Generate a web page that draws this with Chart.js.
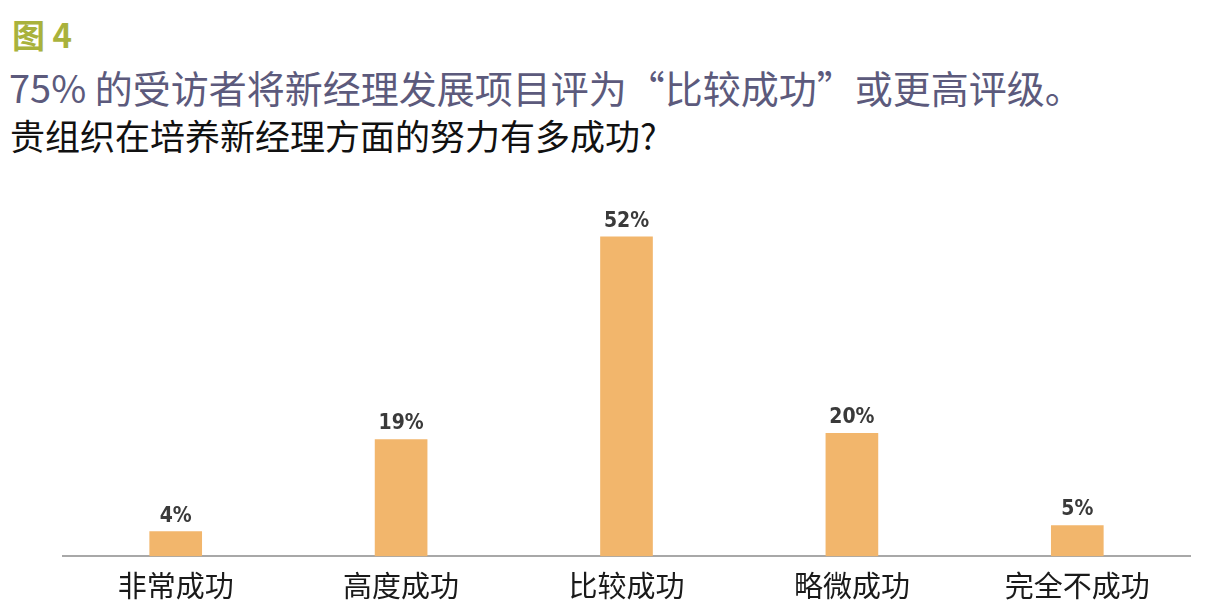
<!DOCTYPE html>
<html>
<head>
<meta charset="utf-8">
<script src="https://cdn.jsdelivr.net/npm/chart.js@4"></script>
<style>
  body { margin: 0; width: 1214px; height: 614px; background: #fff; position: relative; overflow: hidden; font-family: "Noto Sans CJK SC", sans-serif; }
  .fig { position: absolute; left: 12px; top: 18px; font-size: 33px; font-weight: bold; color: #a9b23c; line-height: 1; }
  .headline { position: absolute; left: 9px; top: 68px; font-size: 38px; color: #5c5a7c; line-height: 1; white-space: nowrap; }
  .question { position: absolute; left: 10px; top: 117px; font-size: 35px; color: #111; line-height: 1; white-space: nowrap; }
  #wrap { position: absolute; left: 0; top: 180px; width: 1214px; height: 427px; }
</style>
</head>
<body>
<div class="fig">图 4</div>
<div class="headline">75% 的受访者将新经理发展项目评为“比较成功”或更高评级。</div>
<div class="question">贵组织在培养新经理方面的努力有多成功?</div>
<div id="wrap"><canvas id="chart"></canvas></div>
<script>
const categories = ['非常成功', '高度成功', '比较成功', '略微成功', '完全不成功'];
const shares = [4, 19, 52, 20, 5];

const barLabels = {
  id: 'barLabels',
  afterDatasetsDraw(chart) {
    const { ctx } = chart;
    const meta = chart.getDatasetMeta(0);
    ctx.save();
    ctx.font = 'bold 21px "Liberation Sans Narrow", "DejaVu Sans Condensed", sans-serif';
    ctx.fillStyle = '#3a3a3a';
    ctx.textAlign = 'center';
    ctx.textBaseline = 'bottom';
    meta.data.forEach((bar, i) => {
      ctx.fillText(`${shares[i]}%`, bar.x, bar.y - 5);
    });
    ctx.restore();
  },
};

new Chart(document.querySelector('#chart'), {
  type: 'bar',
  data: {
    labels: categories,
    datasets: [{
      data: shares,
      backgroundColor: '#f2b66c',
      barThickness: 52,
    }],
  },
  options: {
    responsive: true,
    maintainAspectRatio: false,
    animation: false,
    layout: { padding: { left: 63, right: 24, top: 20, bottom: 0 } },
    plugins: { legend: { display: false }, tooltip: { enabled: false } },
    scales: {
      y: { display: false, min: 0, max: 58 },
      x: {
        grid: { display: false },
        border: { color: '#a8a8a8', width: 2 },
        ticks: {
          color: '#1a1a1a',
          padding: 4,
          font: { family: '"Noto Sans CJK SC", sans-serif', size: 29 },
        },
      },
    },
  },
  plugins: [barLabels],
});
</script>
</body>
</html>
